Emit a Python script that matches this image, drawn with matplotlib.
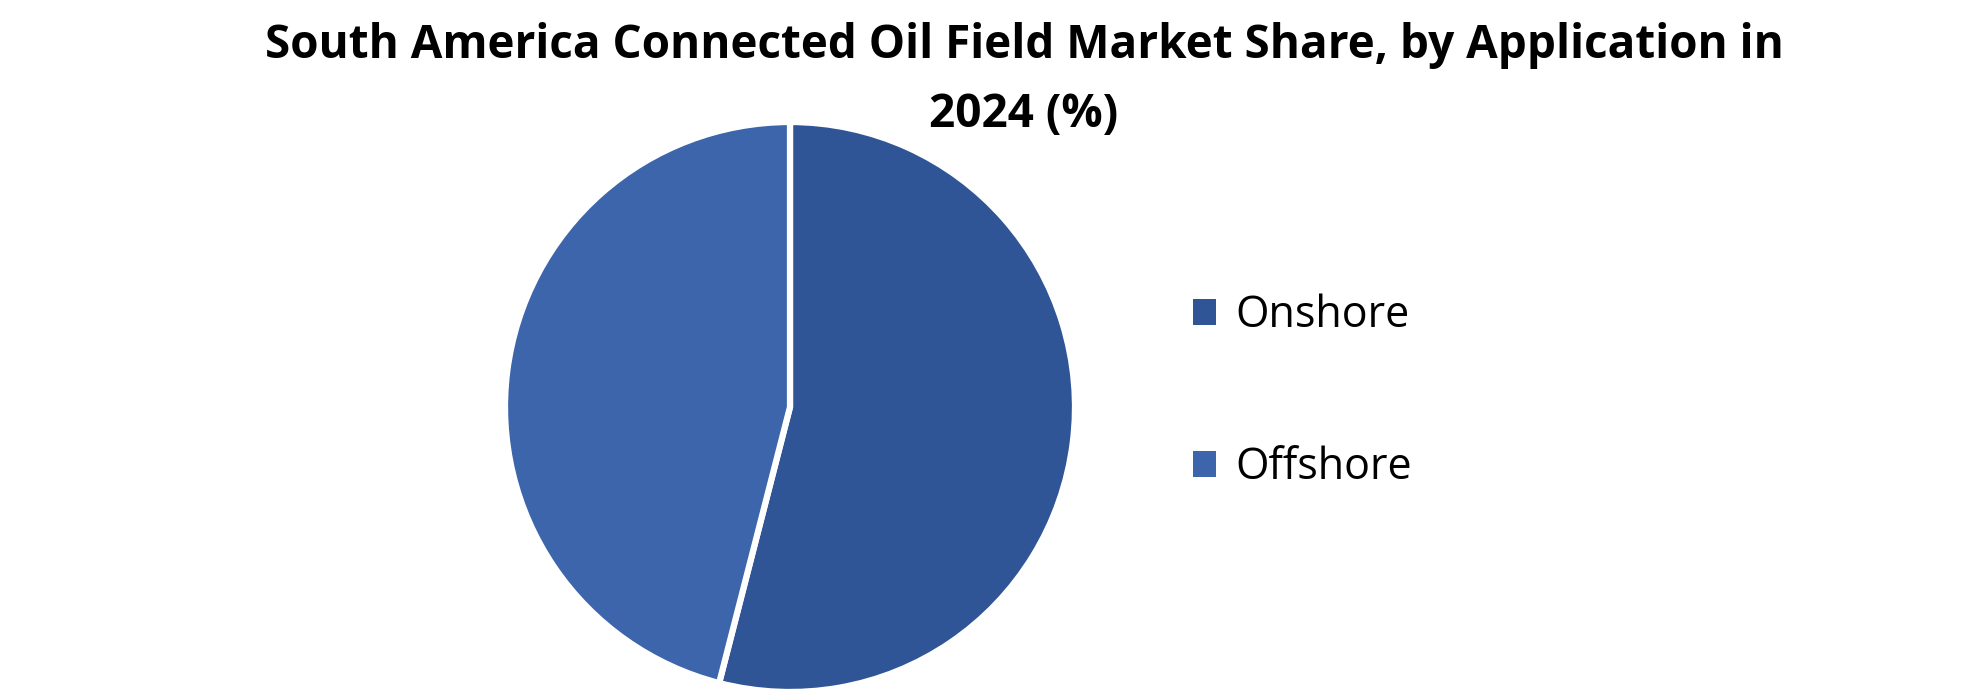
import matplotlib
matplotlib.use("Agg")
import matplotlib.pyplot as plt
from matplotlib.patches import Patch

# data
labels = ["Onshore", "Offshore"]
shares = [54.0, 46.0]
colors = ["#2F5597", "#3C65AB"]
title = "South America Connected Oil Field Market Share, by Application in\n2024 (%)"

W, H = 1980, 694
fig = plt.figure(figsize=(W / 100, H / 100), dpi=100)
fig.patch.set_facecolor("white")

# pie area in pixel coords: centre (790, 407), radius 285
cx, cy, r = 790, 407, 285
ax = fig.add_axes([(cx - r) / W, (H - cy - r) / H, 2 * r / W, 2 * r / H])
wedges, _ = ax.pie(shares, colors=colors, startangle=90, counterclock=False,
                   wedgeprops=dict(edgecolor="white", linewidth=4.5))
ax.set_xlim(-1.0, 1.0)
ax.set_ylim(-1.0, 1.0)
ax.set_aspect("equal")
ax.axis("off")

fig.text(1024 / W, 1 - 80 / H, title, ha="center", va="center",
         fontsize=33, fontweight="bold", family="Open Sans",
         linespacing=1.62, color="black")

handles = [Patch(facecolor=c, edgecolor="none") for c in colors]
fig.legend(handles, labels, loc="center left",
           bbox_to_anchor=(1154 / W, 1 - 392 / H), frameon=False,
           prop=dict(family="Open Sans", size=31),
           handlelength=0.55, handleheight=0.55, handletextpad=0.45,
           labelspacing=2.5)

fig.savefig("out.png", dpi=100, facecolor="white")
